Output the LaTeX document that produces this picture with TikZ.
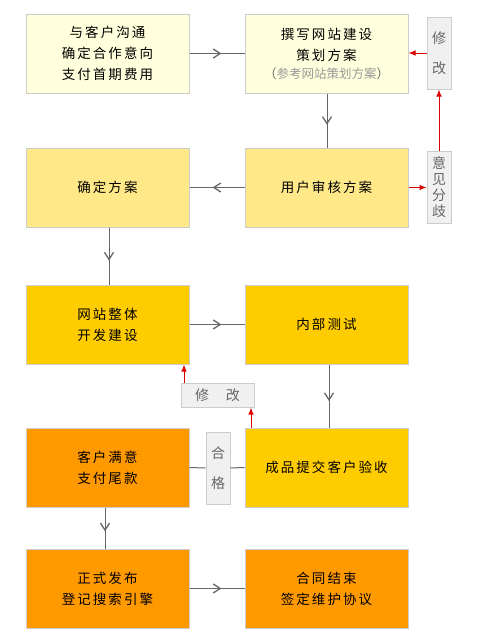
\documentclass[tikz,border=0pt]{standalone}
\usepackage{fontspec}
\setmainfont{Noto Sans CJK SC}
\newfontfamily\mainfnt[LetterSpace=15]{Noto Sans CJK SC}
\newfontfamily\subfnt{Noto Sans CJK SC}
\usetikzlibrary{arrows.meta,decorations.markings}
\definecolor{cA}{HTML}{FFFFDD}
\definecolor{cB}{HTML}{FFE888}
\definecolor{cC}{HTML}{FFCC00}
\definecolor{cD}{HTML}{FF9900}
\definecolor{boxline}{HTML}{CCCCCC}
\definecolor{sidefill}{HTML}{F0F0F0}
\definecolor{sidetext}{HTML}{666666}
\definecolor{lc}{HTML}{666666}
\definecolor{redc}{HTML}{DD0000}
\definecolor{subgray}{HTML}{999999}
\begin{document}
\begin{tikzpicture}[x=1pt,y=-1pt,
  box/.style={draw=boxline,line width=1pt,minimum width=163pt,minimum height=79pt,inner sep=0pt,align=center,font={\fontsize{13.5}{21}\selectfont\mainfnt}},
  sidebox/.style={draw=boxline,fill=sidefill,line width=1pt,inner sep=0pt,align=center,text=sidetext},
  conn/.style={draw=lc,line width=1pt,postaction={decorate},decoration={markings,mark=at position 0.58 with {\arrow[lc,line width=1.3pt]{Straight Barb[length=7pt,width=9pt]}}}},
  plainline/.style={draw=lc,line width=1pt},
  redarr/.style={draw=redc,line width=1pt,-{Latex[length=7pt,width=5.5pt]}}]
\fill[white] (0,0) rectangle (480,640);
\useasboundingbox (0,0) rectangle (480,640);
% row 1
\node[box,fill=cA] (b1) at (107.5,53.5) {与客户沟通\\确定合作意向\\支付首期费用};
\node[box,fill=cA] (b2) at (326.5,53.5) {撰写网站建设\\策划方案\\[-3pt]{\fontsize{12.5}{14}\selectfont\subfnt\textcolor{sidetext}{（}\textcolor{subgray}{参考网站策划方案}\textcolor{sidetext}{）}}};
\node[sidebox,minimum width=24pt,minimum height=72pt,font={\fontsize{14}{30}\selectfont}] (m1) at (439,53) {修\\改};
% row 2
\node[box,fill=cB] (b3) at (107.5,187.5) {确定方案};
\node[box,fill=cB] (b4) at (326.5,187.5) {用户审核方案};
\node[sidebox,minimum width=24pt,minimum height=72pt,font={\fontsize{14}{16}\selectfont}] (yj) at (439,187) {意\\见\\分\\歧};
% row 3
\node[box,fill=cC] (b5) at (107.5,324.5) {网站整体\\开发建设};
\node[box,fill=cC] (b6) at (326.5,324.5) {内部测试};
\node[sidebox,minimum width=73pt,minimum height=24pt,font={\fontsize{14}{16}\selectfont}] (m2) at (217.5,395) {修\hspace{17pt}改};
% row 4
\node[box,fill=cD] (b7) at (107.5,467.5) {客户满意\\支付尾款};
\node[box,fill=cC] (b8) at (326.5,467.5) {成品提交客户验收};
\node[sidebox,minimum width=24pt,minimum height=72pt,font={\fontsize{14}{30}\selectfont}] (hg) at (218,468) {合\\格};
% row 5
\node[box,fill=cD] (b9) at (107.5,588.5) {正式发布\\登记搜索引擎};
\node[box,fill=cD] (b10) at (326.5,588.5) {合同结束\\签定维护协议};
% gray connectors
\draw[conn] (b1.east) -- (b2.west);
\draw[conn] ([xshift=0.5pt]b2.south) -- ([xshift=0.5pt]b4.north);
\draw[conn] (b4.west) -- (b3.east);
\draw[conn] ([xshift=1.5pt]b3.south) -- ([xshift=1.5pt]b5.north);
\draw[conn] (b5.east) -- (b6.west);
\draw[conn] ([xshift=2.5pt]b6.south) -- ([xshift=2.5pt]b8.north);
\draw[plainline] (b8.west) -- (hg.east);
\draw[plainline] (hg.west) -- (b7.east);
\draw[conn] ([xshift=-2.5pt]b7.south) -- ([xshift=-2.5pt]b9.north);
\draw[conn] (b9.east) -- (b10.west);
% red arrows
\draw[redarr] (m1.west) -- (b2.east |- m1.west);
\draw[redarr] (b4.east) -- (yj.west |- b4.east);
\draw[redarr] (yj.north) -- (m1.south);
\draw[redarr] ([xshift=-33.5pt]m2.north) -- ([xshift=76.5pt]b5.south);
\draw[redarr] ([xshift=-75.5pt]b8.north) -- ([xshift=33.5pt]m2.south);
\end{tikzpicture}
\end{document}
